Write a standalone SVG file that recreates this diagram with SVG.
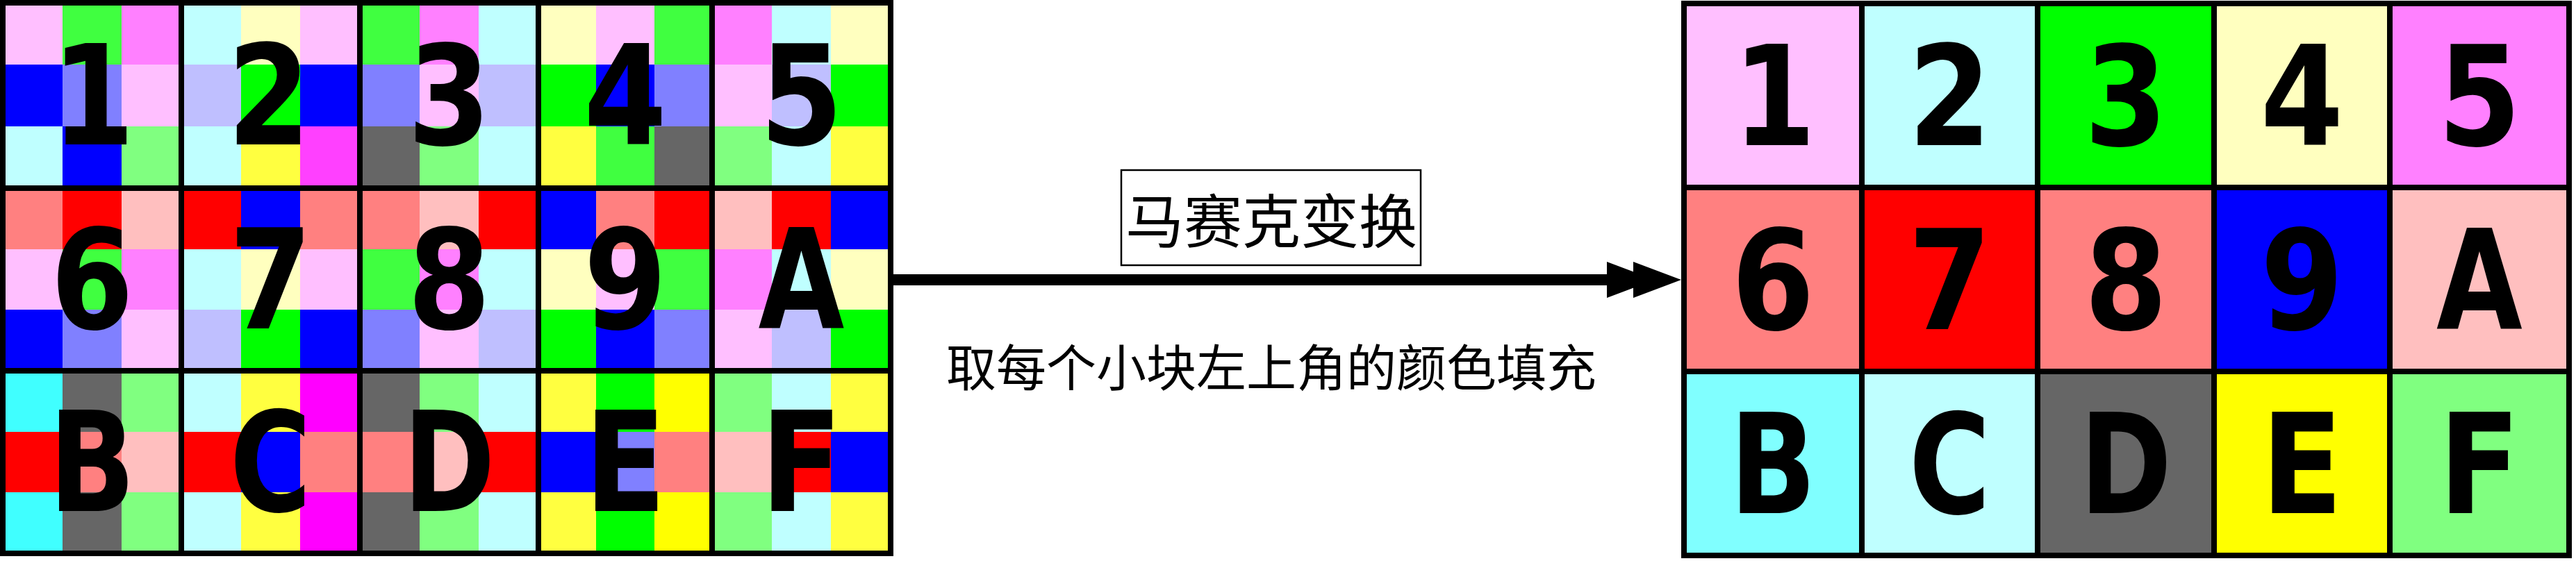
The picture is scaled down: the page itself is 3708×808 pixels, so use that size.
<svg xmlns="http://www.w3.org/2000/svg" width="3708" height="808" viewBox="0 0 3708 808">
<defs>
<style>
.pk{fill:#ffbfff}.mg{fill:#ff80ff}.mm{fill:#ff40ff}.ma{fill:#ff00ff}
.cy{fill:#bfffff}.cb{fill:#80ffff}.cc{fill:#40ffff}
.yl{fill:#ffffbf}.yy{fill:#ffff40}.ye{fill:#ffff00}
.gn{fill:#40ff40}.g0{fill:#00ff00}.lg{fill:#80ff80}
.bl{fill:#0000ff}.lb{fill:#8080ff}.vb{fill:#bfbfff}
.sa{fill:#ff8080}.rd{fill:#ff0000}.rp{fill:#ffbfbf}.gy{fill:#666666}
.frame{fill:none;stroke:#000;stroke-width:8;stroke-linejoin:miter}
.lbl{font-family:"DejaVu Sans",sans-serif;font-weight:bold;font-size:200px;fill:#000;text-anchor:middle}
.cjk{font-family:"Noto Sans CJK SC","Noto Sans CJK JP",sans-serif;fill:#000;text-anchor:middle}
</style>
<marker id="dbl" markerUnits="userSpaceOnUse" markerWidth="110" markerHeight="60" viewBox="0 0 110 60" refX="17" refY="30" orient="auto">
<path d="M0,4 L69,30 L0,56 Z M38,4 L107,30 L38,56 Z" fill="#000"/>
</marker>
</defs>
<rect width="3708" height="808" fill="#fff"/>

<!-- Left mosaic grid -->
<g id="src-1">
<rect class="pk" x="4" y="4" width="86" height="89"/><rect class="gn" x="90" y="4" width="86" height="89"/><rect class="mg" x="175" y="4" width="86" height="89"/>
<rect class="bl" x="4" y="93" width="86" height="89"/><rect class="lb" x="90" y="93" width="86" height="89"/><rect class="pk" x="175" y="93" width="86" height="89"/>
<rect class="cy" x="4" y="182" width="86" height="89"/><rect class="bl" x="90" y="182" width="86" height="89"/><rect class="lg" x="175" y="182" width="86" height="89"/>
<rect class="frame" x="4" y="4" width="257" height="267"/>
<text class="lbl" transform="translate(134,208) scale(0.86,1)">1</text>
</g>
<g id="src-2">
<rect class="cy" x="261" y="4" width="86" height="89"/><rect class="yl" x="347" y="4" width="86" height="89"/><rect class="pk" x="432" y="4" width="86" height="89"/>
<rect class="vb" x="261" y="93" width="86" height="89"/><rect class="g0" x="347" y="93" width="86" height="89"/><rect class="bl" x="432" y="93" width="86" height="89"/>
<rect class="cy" x="261" y="182" width="86" height="89"/><rect class="yy" x="347" y="182" width="86" height="89"/><rect class="mm" x="432" y="182" width="86" height="89"/>
<rect class="frame" x="261" y="4" width="257" height="267"/>
<text class="lbl" transform="translate(387,208) scale(0.86,1)">2</text>
</g>
<g id="src-3">
<rect class="gn" x="518" y="4" width="86" height="89"/><rect class="mg" x="604" y="4" width="86" height="89"/><rect class="cy" x="689" y="4" width="86" height="89"/>
<rect class="lb" x="518" y="93" width="86" height="89"/><rect class="pk" x="604" y="93" width="86" height="89"/><rect class="vb" x="689" y="93" width="86" height="89"/>
<rect class="gy" x="518" y="182" width="86" height="89"/><rect class="lg" x="604" y="182" width="86" height="89"/><rect class="cy" x="689" y="182" width="86" height="89"/>
<rect class="frame" x="518" y="4" width="257" height="267"/>
<text class="lbl" transform="translate(646.5,208) scale(0.86,1)">3</text>
</g>
<g id="src-4">
<rect class="yl" x="775" y="4" width="84" height="89"/><rect class="pk" x="858" y="4" width="84" height="89"/><rect class="gn" x="942" y="4" width="83" height="89"/>
<rect class="g0" x="775" y="93" width="84" height="89"/><rect class="bl" x="858" y="93" width="84" height="89"/><rect class="lb" x="942" y="93" width="83" height="89"/>
<rect class="yy" x="775" y="182" width="84" height="89"/><rect class="gn" x="858" y="182" width="84" height="89"/><rect class="gy" x="942" y="182" width="83" height="89"/>
<rect class="frame" x="775" y="4" width="250" height="267"/>
<text class="lbl" transform="translate(900,208) scale(0.86,1)">4</text>
</g>
<g id="src-5">
<rect class="mg" x="1025" y="4" width="86" height="89"/><rect class="cy" x="1111" y="4" width="86" height="89"/><rect class="yl" x="1196" y="4" width="86" height="89"/>
<rect class="pk" x="1025" y="93" width="86" height="89"/><rect class="vb" x="1111" y="93" width="86" height="89"/><rect class="g0" x="1196" y="93" width="86" height="89"/>
<rect class="lg" x="1025" y="182" width="86" height="89"/><rect class="cy" x="1111" y="182" width="86" height="89"/><rect class="yy" x="1196" y="182" width="86" height="89"/>
<rect class="frame" x="1025" y="4" width="257" height="267"/>
<text class="lbl" transform="translate(1153.5,208) scale(0.86,1)">5</text>
</g>

<g id="src-6">
<rect class="sa" x="4" y="271" width="86" height="88"/><rect class="rd" x="90" y="271" width="86" height="88"/><rect class="rp" x="175" y="271" width="86" height="88"/>
<rect class="pk" x="4" y="359" width="86" height="88"/><rect class="gn" x="90" y="359" width="86" height="88"/><rect class="mg" x="175" y="359" width="86" height="88"/>
<rect class="bl" x="4" y="446" width="86" height="88"/><rect class="lb" x="90" y="446" width="86" height="88"/><rect class="pk" x="175" y="446" width="86" height="88"/>
<rect class="frame" x="4" y="271" width="257" height="263"/>
<text class="lbl" transform="translate(132.5,473) scale(0.86,1)">6</text>
</g>
<g id="src-7">
<rect class="rd" x="261" y="271" width="86" height="88"/><rect class="bl" x="347" y="271" width="86" height="88"/><rect class="sa" x="432" y="271" width="86" height="88"/>
<rect class="cy" x="261" y="359" width="86" height="88"/><rect class="yl" x="347" y="359" width="86" height="88"/><rect class="pk" x="432" y="359" width="86" height="88"/>
<rect class="vb" x="261" y="446" width="86" height="88"/><rect class="g0" x="347" y="446" width="86" height="88"/><rect class="bl" x="432" y="446" width="86" height="88"/>
<rect class="frame" x="261" y="271" width="257" height="263"/>
<text class="lbl" transform="translate(389.5,473) scale(0.86,1)">7</text>
</g>
<g id="src-8">
<rect class="sa" x="518" y="271" width="86" height="88"/><rect class="rp" x="604" y="271" width="86" height="88"/><rect class="rd" x="689" y="271" width="86" height="88"/>
<rect class="gn" x="518" y="359" width="86" height="88"/><rect class="mg" x="604" y="359" width="86" height="88"/><rect class="cy" x="689" y="359" width="86" height="88"/>
<rect class="lb" x="518" y="446" width="86" height="88"/><rect class="pk" x="604" y="446" width="86" height="88"/><rect class="vb" x="689" y="446" width="86" height="88"/>
<rect class="frame" x="518" y="271" width="257" height="263"/>
<text class="lbl" transform="translate(646.5,473) scale(0.86,1)">8</text>
</g>
<g id="src-9">
<rect class="bl" x="775" y="271" width="84" height="88"/><rect class="sa" x="858" y="271" width="84" height="88"/><rect class="rd" x="942" y="271" width="83" height="88"/>
<rect class="yl" x="775" y="359" width="84" height="88"/><rect class="pk" x="858" y="359" width="84" height="88"/><rect class="gn" x="942" y="359" width="83" height="88"/>
<rect class="g0" x="775" y="446" width="84" height="88"/><rect class="bl" x="858" y="446" width="84" height="88"/><rect class="lb" x="942" y="446" width="83" height="88"/>
<rect class="frame" x="775" y="271" width="250" height="263"/>
<text class="lbl" transform="translate(900,473) scale(0.86,1)">9</text>
</g>
<g id="src-A">
<rect class="rp" x="1025" y="271" width="86" height="88"/><rect class="rd" x="1111" y="271" width="86" height="88"/><rect class="bl" x="1196" y="271" width="86" height="88"/>
<rect class="mg" x="1025" y="359" width="86" height="88"/><rect class="cy" x="1111" y="359" width="86" height="88"/><rect class="yl" x="1196" y="359" width="86" height="88"/>
<rect class="pk" x="1025" y="446" width="86" height="88"/><rect class="vb" x="1111" y="446" width="86" height="88"/><rect class="g0" x="1196" y="446" width="86" height="88"/>
<rect class="frame" x="1025" y="271" width="257" height="263"/>
<text class="lbl" transform="translate(1153.5,473) scale(0.8,1)">A</text>
</g>

<g id="src-B">
<rect class="cc" x="4" y="534" width="86" height="88"/><rect class="gy" x="90" y="534" width="86" height="88"/><rect class="lg" x="175" y="534" width="86" height="88"/>
<rect class="rd" x="4" y="622" width="86" height="88"/><rect class="sa" x="90" y="622" width="86" height="88"/><rect class="rp" x="175" y="622" width="86" height="88"/>
<rect class="cc" x="4" y="709" width="86" height="88"/><rect class="gy" x="90" y="709" width="86" height="88"/><rect class="lg" x="175" y="709" width="86" height="88"/>
<rect class="frame" x="4" y="534" width="257" height="263"/>
<text class="lbl" transform="translate(132.5,736) scale(0.82,1)">B</text>
</g>
<g id="src-C">
<rect class="cy" x="261" y="534" width="86" height="88"/><rect class="yy" x="347" y="534" width="86" height="88"/><rect class="ma" x="432" y="534" width="86" height="88"/>
<rect class="rd" x="261" y="622" width="86" height="88"/><rect class="bl" x="347" y="622" width="86" height="88"/><rect class="sa" x="432" y="622" width="86" height="88"/>
<rect class="cy" x="261" y="709" width="86" height="88"/><rect class="yy" x="347" y="709" width="86" height="88"/><rect class="ma" x="432" y="709" width="86" height="88"/>
<rect class="frame" x="261" y="534" width="257" height="263"/>
<text class="lbl" transform="translate(389.5,736) scale(0.8,1)">C</text>
</g>
<g id="src-D">
<rect class="gy" x="518" y="534" width="86" height="88"/><rect class="lg" x="604" y="534" width="86" height="88"/><rect class="cy" x="689" y="534" width="86" height="88"/>
<rect class="sa" x="518" y="622" width="86" height="88"/><rect class="rp" x="604" y="622" width="86" height="88"/><rect class="rd" x="689" y="622" width="86" height="88"/>
<rect class="gy" x="518" y="709" width="86" height="88"/><rect class="lg" x="604" y="709" width="86" height="88"/><rect class="cy" x="689" y="709" width="86" height="88"/>
<rect class="frame" x="518" y="534" width="257" height="263"/>
<text class="lbl" transform="translate(646.5,736) scale(0.8,1)">D</text>
</g>
<g id="src-E">
<rect class="yy" x="775" y="534" width="84" height="88"/><rect class="g0" x="858" y="534" width="84" height="88"/><rect class="ye" x="942" y="534" width="83" height="88"/>
<rect class="bl" x="775" y="622" width="84" height="88"/><rect class="lb" x="858" y="622" width="84" height="88"/><rect class="sa" x="942" y="622" width="83" height="88"/>
<rect class="yy" x="775" y="709" width="84" height="88"/><rect class="g0" x="858" y="709" width="84" height="88"/><rect class="ye" x="942" y="709" width="83" height="88"/>
<rect class="frame" x="775" y="534" width="250" height="263"/>
<text class="lbl" transform="translate(900,736) scale(0.86,1)">E</text>
</g>
<g id="src-F">
<rect class="lg" x="1025" y="534" width="86" height="88"/><rect class="cy" x="1111" y="534" width="86" height="88"/><rect class="yy" x="1196" y="534" width="86" height="88"/>
<rect class="rp" x="1025" y="622" width="86" height="88"/><rect class="rd" x="1111" y="622" width="86" height="88"/><rect class="bl" x="1196" y="622" width="86" height="88"/>
<rect class="lg" x="1025" y="709" width="86" height="88"/><rect class="cy" x="1111" y="709" width="86" height="88"/><rect class="yy" x="1196" y="709" width="86" height="88"/>
<rect class="frame" x="1025" y="534" width="257" height="263"/>
<text class="lbl" transform="translate(1153.5,736) scale(0.86,1)">F</text>
</g>

<!-- Right result grid -->
<g id="dst-1"><rect class="pk" x="2424" y="5" width="256" height="265"/><rect class="frame" x="2424" y="5" width="256" height="265"/><text class="lbl" transform="translate(2554,209) scale(0.86,1)">1</text></g>
<g id="dst-2"><rect class="cy" x="2680" y="5" width="253" height="265"/><rect class="frame" x="2680" y="5" width="253" height="265"/><text class="lbl" transform="translate(2806.5,209) scale(0.86,1)">2</text></g>
<g id="dst-3"><rect class="g0" x="2933" y="5" width="254" height="265"/><rect class="frame" x="2933" y="5" width="254" height="265"/><text class="lbl" transform="translate(3060,209) scale(0.86,1)">3</text></g>
<g id="dst-4"><rect class="yl" x="3187" y="5" width="253" height="265"/><rect class="frame" x="3187" y="5" width="253" height="265"/><text class="lbl" transform="translate(3313.5,209) scale(0.86,1)">4</text></g>
<g id="dst-5"><rect class="mg" x="3440" y="5" width="258" height="265"/><rect class="frame" x="3440" y="5" width="258" height="265"/><text class="lbl" transform="translate(3569,209) scale(0.86,1)">5</text></g>

<g id="dst-6"><rect class="sa" x="2424" y="270" width="256" height="265"/><rect class="frame" x="2424" y="270" width="256" height="265"/><text class="lbl" transform="translate(2552,474) scale(0.86,1)">6</text></g>
<g id="dst-7"><rect class="rd" x="2680" y="270" width="253" height="265"/><rect class="frame" x="2680" y="270" width="253" height="265"/><text class="lbl" transform="translate(2806.5,474) scale(0.86,1)">7</text></g>
<g id="dst-8"><rect class="sa" x="2933" y="270" width="254" height="265"/><rect class="frame" x="2933" y="270" width="254" height="265"/><text class="lbl" transform="translate(3060,474) scale(0.86,1)">8</text></g>
<g id="dst-9"><rect class="bl" x="3187" y="270" width="253" height="265"/><rect class="frame" x="3187" y="270" width="253" height="265"/><text class="lbl" transform="translate(3313.5,474) scale(0.86,1)">9</text></g>
<g id="dst-A"><rect class="rp" x="3440" y="270" width="258" height="265"/><rect class="frame" x="3440" y="270" width="258" height="265"/><text class="lbl" transform="translate(3569,474) scale(0.8,1)">A</text></g>

<g id="dst-B"><rect class="cb" x="2424" y="535" width="256" height="265"/><rect class="frame" x="2424" y="535" width="256" height="265"/><text class="lbl" transform="translate(2552,739) scale(0.82,1)">B</text></g>
<g id="dst-C"><rect class="cy" x="2680" y="535" width="253" height="265"/><rect class="frame" x="2680" y="535" width="253" height="265"/><text class="lbl" transform="translate(2806.5,739) scale(0.8,1)">C</text></g>
<g id="dst-D"><rect class="gy" x="2933" y="535" width="254" height="265"/><rect class="frame" x="2933" y="535" width="254" height="265"/><text class="lbl" transform="translate(3060,739) scale(0.8,1)">D</text></g>
<g id="dst-E"><rect class="ye" x="3187" y="535" width="253" height="265"/><rect class="frame" x="3187" y="535" width="253" height="265"/><text class="lbl" transform="translate(3313.5,739) scale(0.86,1)">E</text></g>
<g id="dst-F"><rect class="lg" x="3440" y="535" width="258" height="265"/><rect class="frame" x="3440" y="535" width="258" height="265"/><text class="lbl" transform="translate(3569,739) scale(0.86,1)">F</text></g>

<!-- Labels -->
<g id="label-title">
<rect x="1614" y="245" width="431" height="137" fill="#fff" stroke="#000" stroke-width="2.5"/>
<text class="cjk" x="1830" y="350" font-size="84">马赛克变换</text>
</g>
<g id="label-desc">
<text class="cjk" x="1830" y="556" font-size="72">取每个小块左上角的颜色填充</text>
</g>

<!-- Connectors -->
<g id="connectors">
<path d="M1286,403 L2330,403" fill="none" stroke="#000" stroke-width="16" marker-end="url(#dbl)"/>
</g>
</svg>
